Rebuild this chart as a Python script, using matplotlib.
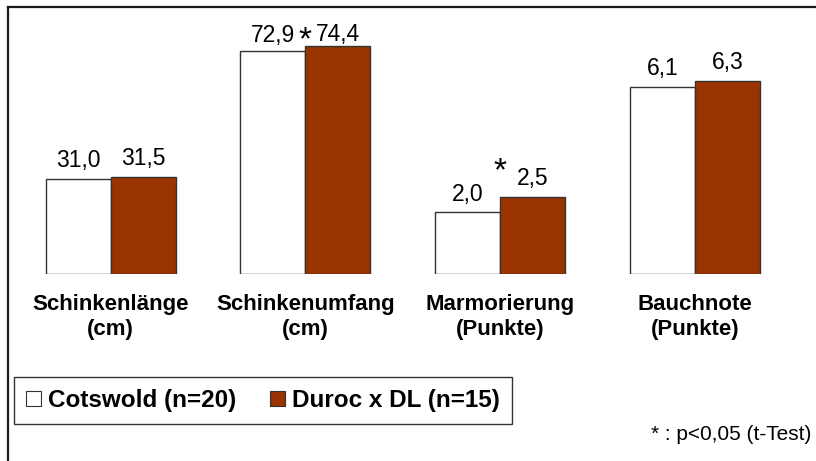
import matplotlib
matplotlib.use("Agg")
import matplotlib.pyplot as plt
from matplotlib.patches import Patch
from matplotlib.lines import Line2D

# ---- data ----
categories = ["Schinkenlänge\n(cm)", "Schinkenumfang\n(cm)",
              "Marmorierung\n(Punkte)", "Bauchnote\n(Punkte)"]
cotswold = [31.0, 72.9, 2.0, 6.1]
duroc = [31.5, 74.4, 2.5, 6.3]
display_factor = [1, 1, 10, 10]          # scores drawn x10 in the original
significant = [False, True, True, False]
series_names = ["Cotswold (n=20)", "Duroc x DL (n=15)"]
footnote = "* : p<0,05 (t-Test)"

# ---- style ----
W, H, DPI = 816, 461, 100
PX = 72.0 / DPI            # points per pixel
brown = "#993300"
edge = "#333333"
font = "Liberation Sans"
plt.rcParams["font.family"] = [font, "DejaVu Sans"]

fig = plt.figure(figsize=(W / DPI, H / DPI), dpi=DPI)
fig.patch.set_facecolor("white")

group_px = 194.8
first_center_px = 110.5
baseline_px = 273.7
px_per_unit = 3.06
ylim_top = 80
ax_h_px = ylim_top * px_per_unit
ax = fig.add_axes([0, 1 - baseline_px / H, 1, ax_h_px / H])
x0 = -first_center_px / group_px
ax.set_xlim(x0, x0 + W / group_px)
ax.set_ylim(0, ylim_top)
for s in ax.spines.values():
    s.set_visible(False)
ax.set_yticks([])
ax.patch.set_alpha(0)

bw = 65 / group_px
xs = list(range(len(categories)))
h_c = [v * f for v, f in zip(cotswold, display_factor)]
h_d = [v * f for v, f in zip(duroc, display_factor)]
bars_c = ax.bar([x - bw / 2 for x in xs], h_c, width=bw, color="white",
                edgecolor=edge, linewidth=1.0)
bars_d = ax.bar([x + bw / 2 for x in xs], h_d, width=bw, color=brown,
                edgecolor=edge, linewidth=1.0)

def fmt(v):
    return f"{v:.1f}".replace(".", ",")

label_gap_px = {(1, 0): 9, (1, 1): 5}
for si, (bars, vals) in enumerate([(bars_c, cotswold), (bars_d, duroc)]):
    for gi, (b, v) in enumerate(zip(bars, vals)):
        gap = label_gap_px.get((gi, si), 12)
        ax.annotate(fmt(v), (b.get_x() + b.get_width() / 2, b.get_height()),
                    xytext=(0, gap * PX), textcoords="offset points",
                    ha="center", va="baseline", fontsize=16.5, color="black")

star_gap_px = {1: 21, 2: 41}
for gi, sig in enumerate(significant):
    if sig:
        top = max(h_c[gi], h_d[gi])
        ax.annotate("*", (xs[gi], top), xytext=(0, star_gap_px[gi] * PX),
                    textcoords="offset points", ha="center", va="top",
                    fontsize=24, color="black")

ax.set_xticks(xs)
ax.set_xticklabels(categories, fontsize=16, fontweight="bold",
                   linespacing=1.3)
ax.tick_params(axis="x", length=0, pad=20 * PX)

# legend
handles = [Patch(facecolor="white", edgecolor=edge, linewidth=0.8),
           Patch(facecolor=brown, edgecolor=edge, linewidth=0.8)]
leg = fig.legend(handles, series_names, loc="upper left",
                 bbox_to_anchor=(14 / W, 1 - 377 / H),
                 bbox_transform=fig.transFigure, ncol=2, borderaxespad=0,
                 prop={"family": font, "weight": "bold", "size": 17.5},
                 handlelength=0.6, handleheight=0.6, handletextpad=0.3,
                 columnspacing=1.4, borderpad=0.5, fancybox=False,
                 framealpha=1, edgecolor=edge)
leg.get_frame().set_linewidth(1.0)

# footnote
fig.text(811 / W, 1 - 440 / H, footnote, ha="right", va="baseline",
         fontsize=15, color="black")

# outer frame (left and top edges visible)
fx, fy = 8 / W, 1 - 7 / H
fig.add_artist(Line2D([fx, fx], [0, fy], transform=fig.transFigure,
                      color="#1a1a1a", linewidth=1.6, solid_capstyle="projecting"))
fig.add_artist(Line2D([fx, 1.0], [fy, fy], transform=fig.transFigure,
                      color="#1a1a1a", linewidth=1.6, solid_capstyle="projecting"))

fig.savefig("out.png", dpi=DPI, facecolor="white")
